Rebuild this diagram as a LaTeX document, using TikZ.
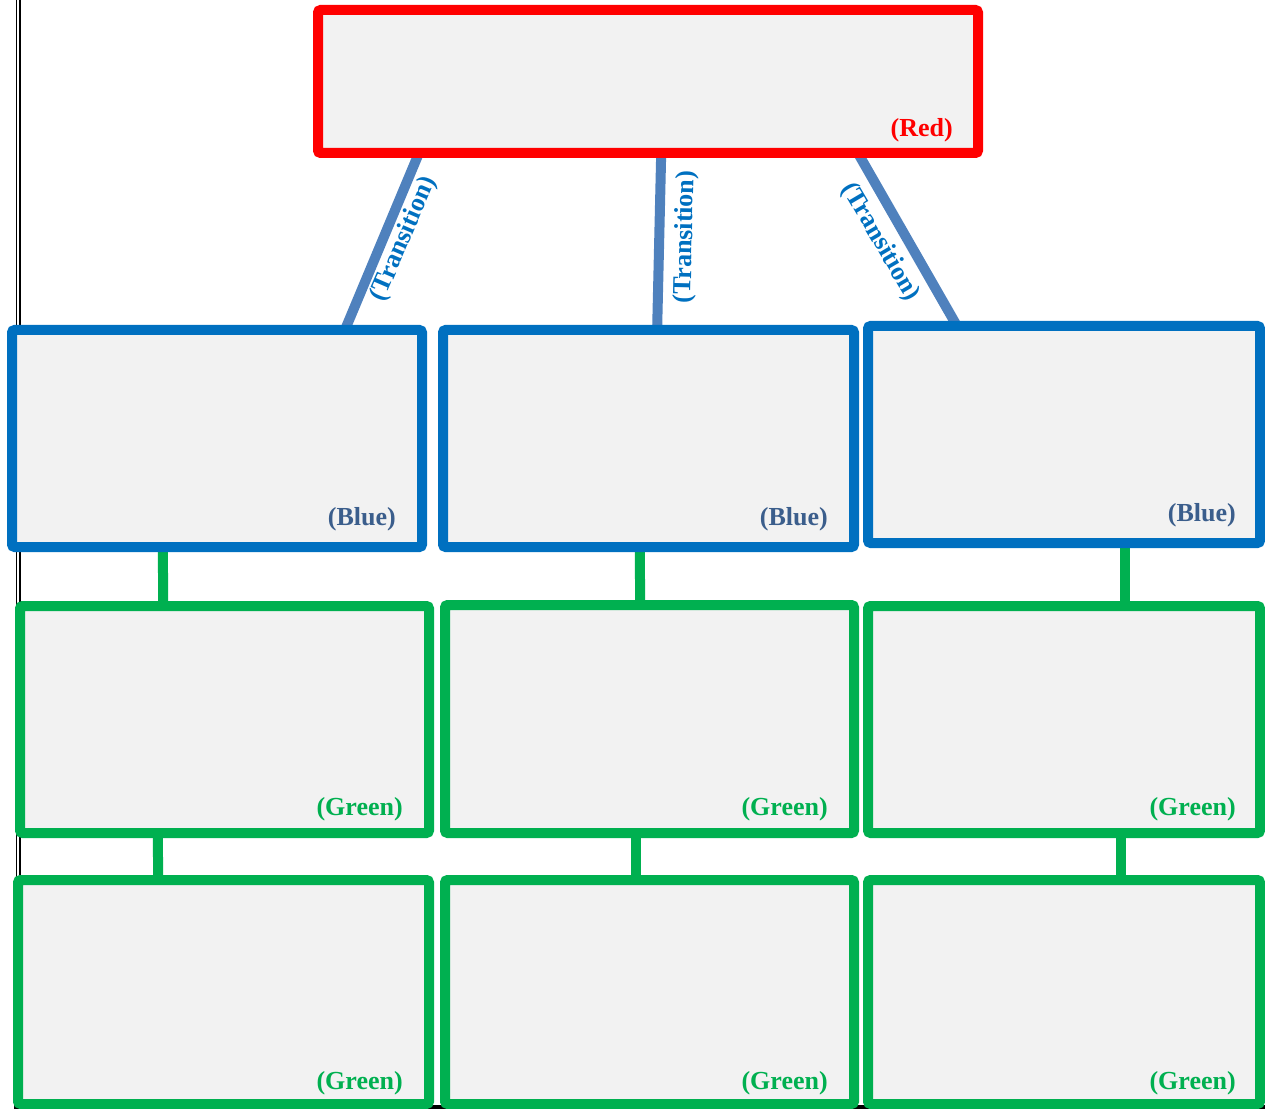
\documentclass[tikz,border=0pt]{standalone}
\usepackage{fontspec}
\setmainfont{Liberation Serif}
\usetikzlibrary{fit,calc,backgrounds}
\definecolor{boxfill}{HTML}{F2F2F2}
\definecolor{redc}{HTML}{FF0000}
\definecolor{bluec}{HTML}{0070C0}
\definecolor{greenc}{HTML}{00B050}
\definecolor{linkc}{HTML}{4F81BD}
\definecolor{bluelab}{HTML}{3B5E8C}
\begin{document}
\begin{tikzpicture}[x=0.75pt,y=-0.75pt,
  basebox/.style={rectangle,inner sep=0pt,outer sep=0pt,fill=boxfill,line width=7.5pt,rounded corners=2pt},
  redbox/.style={basebox,draw=redc},
  bluebox/.style={basebox,draw=bluec},
  greenbox/.style={basebox,draw=greenc},
  lab/.style={font=\bfseries\fontsize{19.5pt}{21pt}\selectfont,anchor=east,inner sep=0pt},
  translab/.style={font=\bfseries\fontsize{19.5pt}{21pt}\selectfont,text=bluec,inner sep=0pt},
  link/.style={draw=linkc,line width=7.5pt},
  glink/.style={draw=greenc,line width=7.5pt}]
\useasboundingbox (0,0) rectangle (1265,1109);
% page decorations
\draw[black,line width=1.2pt] (16.5,0) -- (16.5,1109);
\draw[black,line width=1.2pt] (19.7,0) -- (19.7,1109);
\draw[black,line width=3pt] (14,1107) -- (1265,1107);
% boxes
\node[redbox,fit={(318,10) (978,153)}] (R) {};
\node[bluebox,fit={(12,330) (422,547)}] (B1) {};
\node[bluebox,fit={(443,330) (854,547)}] (B2) {};
\node[bluebox,fit={(868,326) (1260,543)}] (B3) {};
\node[greenbox,fit={(20,606) (429,833)}] (G1) {};
\node[greenbox,fit={(445,605) (854,833)}] (G2) {};
\node[greenbox,fit={(868,606) (1260,833)}] (G3) {};
\node[greenbox,fit={(18,880) (429,1104)}] (G4) {};
\node[greenbox,fit={(445,880) (854,1104)}] (G5) {};
\node[greenbox,fit={(868,880) (1260,1104)}] (G6) {};
% connectors
\begin{scope}[on background layer]
\draw[link] ($(R.south west)!0.153!(R.south east)$) -- ($(B1.north west)!0.812!(B1.north east)$);
\draw[link] ($(R.south west)!0.520!(R.south east)$) -- ($(B2.north west)!0.521!(B2.north east)$);
\draw[link] ($(R.south west)!0.818!(R.south east)$) -- ($(B3.north west)!0.227!(B3.north east)$);
\draw[glink] ($(B1.south west)!0.368!(B1.south east)$) -- ($(G1.north west)!0.350!(G1.north east)$);
\draw[glink] ($(B2.south west)!0.479!(B2.south east)$) -- ($(G2.north west)!0.477!(G2.north east)$);
\draw[glink] ($(B3.south west)!0.656!(B3.south east)$) -- ($(G3.north west)!0.656!(G3.north east)$);
\draw[glink] ($(G1.south west)!0.337!(G1.south east)$) -- ($(G4.north west)!0.341!(G4.north east)$);
\draw[glink] ($(G2.south west)!0.467!(G2.south east)$) -- ($(G5.north west)!0.467!(G5.north east)$);
\draw[glink] ($(G3.south west)!0.645!(G3.south east)$) -- ($(G6.north west)!0.645!(G6.north east)$);
\end{scope}
% transition labels
\node[translab,rotate=66.7] (T1) at (404,239) {(Transition)};
\node[translab,rotate=88.7] (T2) at (686,237) {(Transition)};
\node[translab,rotate=-59.5] (T3) at (880,242) {(Transition)};
% box labels
\node[lab,text=redc] (LR) at (953,130) {(Red)};
\node[lab,text=bluelab] (LB1) at (396,519) {(Blue)};
\node[lab,text=bluelab] (LB2) at (828,519) {(Blue)};
\node[lab,text=bluelab] (LB3) at (1236,515) {(Blue)};
\node[lab,text=greenc] (LG1) at (403,809) {(Green)};
\node[lab,text=greenc] (LG2) at (828,809) {(Green)};
\node[lab,text=greenc] (LG3) at (1236,809) {(Green)};
\node[lab,text=greenc] (LG4) at (403,1083) {(Green)};
\node[lab,text=greenc] (LG5) at (828,1083) {(Green)};
\node[lab,text=greenc] (LG6) at (1236,1083) {(Green)};
\end{tikzpicture}
\end{document}
